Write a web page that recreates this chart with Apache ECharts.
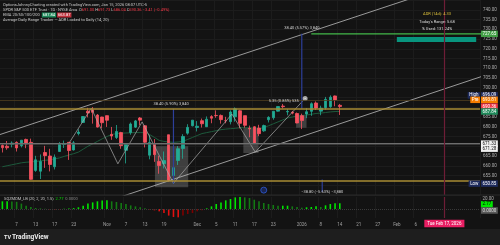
<!DOCTYPE html>
<html><head><meta charset="utf-8">
<script src="https://cdn.jsdelivr.net/npm/echarts@6/dist/echarts.min.js"></script>
<style>html,body{margin:0;padding:0;background:#131313;}#c{width:500px;height:245px;}</style>
</head><body><div id="c"></div>
<script>
// ---------------- DATA ----------------
const dates = [
'2025-10-02','2025-10-03','2025-10-06','2025-10-07','2025-10-08','2025-10-09','2025-10-10','2025-10-13','2025-10-14','2025-10-15','2025-10-16','2025-10-17','2025-10-20','2025-10-21','2025-10-22','2025-10-23','2025-10-24','2025-10-27','2025-10-28','2025-10-29','2025-10-30','2025-10-31',
'2025-11-03','2025-11-04','2025-11-05','2025-11-06','2025-11-07','2025-11-10','2025-11-11','2025-11-12','2025-11-13','2025-11-14','2025-11-17','2025-11-18','2025-11-19','2025-11-20','2025-11-21','2025-11-24','2025-11-25','2025-11-26','2025-11-28',
'2025-12-01','2025-12-02','2025-12-03','2025-12-04','2025-12-05','2025-12-08','2025-12-09','2025-12-10','2025-12-11','2025-12-12','2025-12-15','2025-12-16','2025-12-17','2025-12-18','2025-12-19','2025-12-22','2025-12-23','2025-12-24','2025-12-26','2025-12-29','2025-12-30','2025-12-31',
'2026-01-02','2026-01-05','2026-01-06','2026-01-07','2026-01-08','2026-01-09','2026-01-12','2026-01-13','2026-01-14',
'2026-01-15','2026-01-16','2026-01-20','2026-01-21','2026-01-22','2026-01-23','2026-01-26','2026-01-27','2026-01-28','2026-01-29','2026-01-30',
'2026-02-02','2026-02-03','2026-02-04','2026-02-05','2026-02-06','2026-02-09','2026-02-10','2026-02-11','2026-02-12','2026-02-13','2026-02-17','2026-02-18','2026-02-19','2026-02-20','2026-02-23','2026-02-24','2026-02-25','2026-02-26'
];
const tickLabels = {
'2025-10-07':'7','2025-10-13':'13','2025-10-17':'17','2025-10-23':'23','2025-11-03':'Nov','2025-11-07':'7','2025-11-13':'13','2025-11-19':'19',
'2025-12-01':'Dec','2025-12-05':'5','2025-12-11':'11','2025-12-17':'17','2025-12-23':'23','2026-01-02':'2026','2026-01-08':'8','2026-01-14':'14',
'2026-01-21':'21','2026-01-27':'27','2026-02-02':'Feb','2026-02-06':'6'
};
const candleOpen  = [670.4,670.0,671.0,672.0,670.3,673.5,672.0,657.6,657.2,666.8,665.0,659.5,667.3,670.9,672.0,668.1,676.5,682.2,688.0,688.7,686.0,685.0,
685.7,676.1,674.5,677.0,667.9,677.0,679.8,684.5,680.5,665.4,671.4,662.2,661.0,675.9,655.0,662.7,668.8,676.7,680.5,
679.6,683.1,680.0,685.2,685.8,685.8,683.1,682.6,685.1,688.2,685.7,679.2,680.0,679.3,677.9,683.6,684.6,688.0,690.6,687.6,687.4,686.8,
685.7,686.5,687.9,692.2,688.0,689.8,690.3,695.8,691.0];
const candleHigh  = [671.0,672.7,672.5,672.5,673.2,673.9,673.9,665.1,665.8,670.2,668.7,665.8,672.2,672.9,672.0,672.7,678.7,685.5,689.7,690.1,686.5,685.1,
685.8,679.9,680.9,677.4,671.1,682.2,683.5,685.0,680.9,675.7,673.7,665.1,667.3,675.9,664.5,670.1,676.2,681.3,683.4,
682.9,684.2,685.3,685.9,688.4,686.3,685.1,688.4,689.9,688.6,685.7,680.6,680.3,681.0,681.1,685.4,688.0,690.4,691.7,689.1,688.1,687.3,
686.7,689.5,692.5,693.0,690.8,695.3,696.09,696.0,691.7];
const candleLow   = [666.8,668.2,669.4,667.3,669.4,669.0,652.8,656.9,653.2,658.9,657.1,658.1,667.2,669.1,663.0,667.8,675.6,682.0,684.8,681.6,679.6,679.2,
679.9,673.3,673.7,668.7,661.2,675.9,679.4,680.8,669.4,663.3,662.0,655.9,658.6,651.9,650.85,660.4,663.6,675.9,680.2,
677.6,679.6,679.9,681.8,684.6,681.6,681.8,681.2,682.6,679.2,679.5,674.6,671.2,675.2,677.4,682.2,683.6,687.8,689.4,685.9,686.4,681.8,
678.8,684.4,685.6,688.6,685.9,688.8,689.7,690.5,686.04];
const candleClose = [669.22,669.21,671.61,669.12,673.11,671.16,653.02,663.04,662.23,665.17,660.64,664.39,671.30,671.29,667.80,671.76,677.25,685.24,687.06,687.39,679.83,682.06,
683.34,675.24,677.58,670.31,670.97,681.44,683.00,683.38,672.04,671.93,665.67,660.08,662.63,652.53,659.03,668.73,675.02,679.68,683.39,
680.27,681.53,683.89,684.39,685.69,683.63,683.04,687.57,689.17,681.76,680.73,678.87,671.40,676.47,680.59,684.83,687.96,690.38,690.31,687.85,687.01,681.92,
683.17,687.72,691.81,689.58,689.51,694.07,695.16,693.77,690.36];
const emaLine = [659.5,660.0,660.5,661.0,661.5,661.8,662.0,662.2,662.5,662.8,663.0,663.5,664.0,664.8,665.5,666.2,667.0,668.5,670.0,671.2,672.5,673.8,
675.0,676.0,676.5,676.7,676.8,676.9,677.0,677.0,677.0,676.0,674.5,673.0,672.5,672.2,672.0,672.2,672.5,673.5,674.5,
675.5,676.5,677.0,677.5,678.0,678.5,678.8,679.0,679.2,679.5,679.5,679.5,679.2,679.0,679.5,680.5,681.5,682.5,683.5,684.5,685.0,685.5,
685.8,686.0,686.4,686.8,687.0,687.3,687.6,687.8,687.84];
const sqzMom = [12.8,12.8,12.5,12.0,9.0,5.5,3.3,1.7,1.0,0.5,-0.5,-1.0,-0.6,0.4,0.8,1.5,2.8,5.5,9.0,11.0,12.8,14.0,
14.4,12.8,11.7,10.0,8.3,6.0,4.4,2.8,1.1,-0.5,-2.2,-3.9,-6.7,-11.0,-13.3,-13.9,-11.0,-8.3,-6.7,
-3.9,-2.2,1.1,4.4,8.3,11.0,14.4,16.7,19.4,20.0,19.4,18.3,15.5,12.8,10.0,8.3,6.7,5.5,5.5,5.5,4.4,3.3,
2.2,2.8,3.3,4.4,3.3,6.1,8.3,9.4,9.4];
// drawings: [candle index, price]
const zigzag = [[14,671.5],[18.7,689.5],[24.3,661],[29.4,682.5],[36,651],[48.3,686.5],[53.2,667],[63.7,694.5]];
const upperChannel = [[-1,675.6],[101,757.9]];
const lowerChannel = [[-1,623.0],[101,705.9]];
const greenTarget = [[65,727.65],[101,727.65]];
const targetBox = [[83,726],[99.7,723.5]];
const grayBoxes = [[[32.1,670],[39.1,649]],[[50.7,679.5],[53.9,666.5]],[[61.8,686],[64,679.5]]];
const measure1 = [[36,650.85],[36,689.25]];
const measure2 = [[63,689.25],[63,727.65]];
const measure3 = [[67.3,653],[67.3,646.5]];
const goldLevels = [689.25, 652.53];
const prevClose = 693.77;
const grayLevels = [671.33, 671.28];
const eventMarker = [[55,647.5]];
const markerDate = '2026-02-17';

// ---------------- CHART ----------------
const chart = echarts.init(document.getElementById('c'), null, {renderer:'canvas'});
const FONT = 'Roboto, "DejaVu Sans", sans-serif';
const candleData = candleOpen.map((o,i)=>[o, candleClose[i], candleLow[i], candleHigh[i]]);
const sqzData = sqzMom.map((v,i)=>{
  const prev = i>0 ? sqzMom[i-1] : v;
  let col;
  if (v >= 0) col = v >= prev ? '#00e600' : '#137a13';
  else col = v < prev ? '#e01010' : '#7d0000';
  return {value:v, itemStyle:{color:col}};
});
function seg(points, color, width, extra){
  return Object.assign({type:'line', xAxisIndex:2, yAxisIndex:0, data:points, symbol:'none', silent:true,
    lineStyle:{color:color, width:width}, z:4, clip:true}, extra||{});
}
const option = {
  animation:false,
  backgroundColor:'#131313',
  grid:[
    {left:0, right:20, top:-2, height:197},
    {left:0, right:20, top:197, height:21}
  ],
  xAxis:[
    {type:'category', gridIndex:0, data:dates, boundaryGap:true, axisLine:{show:false}, axisTick:{show:false}, axisLabel:{show:false},
     splitLine:{show:true, interval:(i,v)=>tickLabels[v]!==undefined, lineStyle:{color:'#1c1c1c', width:1}}},
    {type:'category', gridIndex:1, data:dates, boundaryGap:true, axisLine:{show:false}, axisTick:{show:false},
     axisLabel:{show:true, interval:(i,v)=>tickLabels[v]!==undefined, formatter:v=>tickLabels[v]||'', color:'#a0a0a0', fontSize:4.5, fontFamily:FONT, margin:4},
     splitLine:{show:true, interval:(i,v)=>tickLabels[v]!==undefined, lineStyle:{color:'#1c1c1c', width:1}}},
    {type:'value', gridIndex:0, min:-0.5, max:100.5, show:false}
  ],
  yAxis:[
    {type:'value', gridIndex:0, position:'right', min:645, max:745, interval:5, axisLine:{show:false}, axisTick:{show:false},
     axisLabel:{color:'#b0b0b0', fontSize:4.5, fontFamily:FONT, margin:3, formatter:v=>(v===645||v===745)?'':v.toFixed(2)},
     splitLine:{show:true, lineStyle:{color:'#1c1c1c', width:1}}},
    {type:'value', gridIndex:1, position:'right', min:-15, max:20, interval:5, axisLine:{show:false}, axisTick:{show:false},
     axisLabel:{show:false}, splitLine:{show:false}}
  ],
  series:[
    {type:'candlestick', xAxisIndex:0, yAxisIndex:0, data:candleData, barWidth:3, z:3,
     itemStyle:{color:'#22ab94', color0:'#f7525f', borderColor:'#22ab94', borderColor0:'#f7525f', borderWidth:0.8},
     markLine:{symbol:'none', silent:true, label:{show:false}, data:[
       {yAxis:goldLevels[0], lineStyle:{color:'#a88d34', width:1.6, type:'solid'}},
       {yAxis:goldLevels[1], lineStyle:{color:'#a88d34', width:1.6, type:'solid'}},
       {yAxis:prevClose, lineStyle:{color:'#4e3d20', width:0.8, type:'solid'}},
       {yAxis:grayLevels[0], lineStyle:{color:'#6e6e6e', width:1, type:'solid'}},
       {yAxis:grayLevels[1], lineStyle:{color:'#555555', width:0.6, type:'solid'}},
       {xAxis:markerDate, lineStyle:{color:'#6e1d36', width:1.2, type:'solid'}}
     ]}},
    {type:'line', xAxisIndex:0, yAxisIndex:0, data:emaLine, symbol:'none', silent:true, lineStyle:{color:'#1d5a3c', width:1}, z:2},
    seg(upperChannel, '#bdbdbd', 0.8),
    seg(lowerChannel, '#bdbdbd', 0.8),
    seg(zigzag, '#aaaaaa', 0.7),
    seg([zigzag[zigzag.length-1]], '#aaaaaa', 0.7, {symbol:'emptyCircle', symbolSize:3, itemStyle:{color:'#aaaaaa', borderColor:'#aaaaaa'}}),
    seg(greenTarget, '#43b94a', 1.3),
    seg(measure1, '#2d3f9a', 1.2),
    seg(measure2, '#2d3f9a', 1.2),
    seg(measure3, '#2d3f9a', 1.2),
    {type:'line', xAxisIndex:2, yAxisIndex:0, data:[], silent:true, z:1,
     markArea:{silent:true, itemStyle:{color:'rgba(190,190,190,0.26)'}, data: grayBoxes.map(b=>[{coord:b[0]},{coord:b[1]}]).concat([
       [{coord:targetBox[0], itemStyle:{color:'#08957e'}},{coord:targetBox[1]}]
     ])}},
    {type:'scatter', xAxisIndex:2, yAxisIndex:0, data:eventMarker, symbol:'circle', symbolSize:6, silent:true,
     itemStyle:{color:'#1b2b63', borderColor:'#2f5bd8', borderWidth:1}, z:6},
    {type:'bar', xAxisIndex:1, yAxisIndex:1, data:sqzData, barWidth:1.6, silent:true,
     markLine:{symbol:'none', silent:true, label:{show:false}, data:[
       {yAxis:0, lineStyle:{color:'#3a3a3a', width:1, type:'dotted'}},
       {xAxis:markerDate, lineStyle:{color:'#6e1d36', width:1.2, type:'solid'}}
     ]}}
  ]
};
chart.setOption(option);

// ----- overlays positioned through the chart's own scales -----
const py = p => chart.convertToPixel({yAxisIndex:0}, p);
const py2 = p => chart.convertToPixel({yAxisIndex:1}, p);
const px = i => chart.convertToPixel({xAxisIndex:2}, i);
const AX = 481;
function tag(y, text, bg, fg){
  return {type:'text', z:100, x:AX, y:y, style:{text:text, fill:fg, backgroundColor:bg, padding:[1,1.5,0.5,1.5], font:'4.5px '+FONT, verticalAlign:'middle', align:'left'}};
}
function ptag(y, text, bg, fg){
  return {type:'text', z:100, x:AX-1, y:y, style:{text:text, fill:fg, backgroundColor:bg, padding:[1,1.5,0.5,1.5], font:'4.5px '+FONT, verticalAlign:'middle', align:'right'}};
}
function label(x, y, text, color, align){
  return {type:'text', z:90, x:x, y:y, style:{text:text, fill:color, font:'4px '+FONT, align:align||'center', verticalAlign:'middle'}};
}
const g = [];
// header
g.push({type:'text', z:100, left:3, top:2, style:{font:'4px '+FONT, fill:'#c8c8c8', lineHeight:5.2,
  text:'{w|OptionsJohnnyCharting created with TradingView.com, Jan 15, 2026 08:07 UTC-5}\n' +
       '{w|SPDR S&P 500 ETF Trust · 1D · NYSE Arca  }{w|O}{r|691.00 }{w|H}{r|691.73 }{w|L}{r|686.04 }{w|C}{r|690.36 −3.41 (−0.49%)}\n' +
       '{w|EMA 20/50/100/200  }{gb|687.84}{w| }{rb|663.87}\n' +
       '{w|Average Daily Range Tracker — ADR Locked to Daily (14, 20)}',
  rich:{w:{fill:'#c8c8c8', font:'4px '+FONT}, r:{fill:'#f23645', font:'4px '+FONT},
        gb:{fill:'#fff', backgroundColor:'#1e8a5a', padding:[0.5,1], font:'4px '+FONT},
        rb:{fill:'#fff', backgroundColor:'#c0303c', padding:[0.5,1], font:'4px '+FONT}}}});
// ADR box
g.push(label(437, 14, 'ADR (14d): 4.33', '#d9bd3a'));
g.push(label(437, 21.5, "Today's Range: 5.68", '#dddddd'));
g.push(label(437, 29, '% Used: 131.24%', '#dddddd'));
// measure labels
g.push(label(px(35.5), py(691.7), '38.40 (5.90%) 3,840', '#cfcfcf'));
g.push(label(px(63), py(730.5), '38.40 (5.57%) 3,840', '#cfcfcf'));
g.push(label(px(59.2), py(693.2), '5.35 (0.85%) 535', '#cfcfcf'));
g.push(label(px(67.3), py(646.3), '−38.80 (−5.63%) −3,880', '#cfcfcf'));
// axis tags
g.push(tag(py(727.65), '727.65', '#43a047', '#fff'));
g.push(ptag(py(696.09), 'High', '#1d2a5c', '#fff'));
g.push(tag(py(696.09), '696.09', '#1d2a5c', '#fff'));
g.push(ptag(py(693.81), 'Pre', '#f57c00', '#fff'));
g.push(tag(py(693.81), '693.81', '#f57c00', '#fff'));
g.push(tag(py(690.36), '690.36', '#f23645', '#fff'));
g.push(tag(py(687.84), '687.84', '#1e8a5a', '#fff'));
g.push(tag(py(671.33), '671.33', '#f0f0f0', '#111'));
g.push(tag(py(671.33)+5, '671.28', '#f0f0f0', '#111'));
g.push(ptag(py(650.85), 'Low', '#1d2a5c', '#fff'));
g.push(tag(py(650.85), '650.85', '#1d2a5c', '#fff'));
// oscillator
g.push({type:'text', z:100, left:4, top:197, style:{font:'4px '+FONT, text:'{w|SQZMOM_LB (20, 2, 20, 1.5)  }{g|2.77}{w|  }{k|0.0000}',
  rich:{w:{fill:'#c8c8c8', font:'4px '+FONT}, g:{fill:'#00e600', font:'4px '+FONT}, k:{fill:'#888', font:'4px '+FONT}}}});
g.push({type:'text', z:100, x:AX+1.5, y:py2(20)+1.5, style:{text:'20.00', fill:'#b0b0b0', font:'4.5px '+FONT, verticalAlign:'middle', align:'left'}});
g.push(tag(py2(2.77)-3, '2.77', '#00e600', '#000'));
g.push(tag(py2(0)+1.5, '0.0000', '#5a5a5a', '#ddd'));
// pane separator, date marker, footer
g.push({type:'rect', z:50, shape:{x:0, y:py(645)-0.5, width:500, height:1}, style:{fill:'#2a2a2a'}});
g.push({type:'text', z:100, x:px(93), y:223.5, style:{text:'Tue Feb 17, 2026', fill:'#fff', backgroundColor:'#e91e63', padding:[1.5,3,1,3], font:'4.5px '+FONT, align:'center', verticalAlign:'middle'}});
g.push({type:'rect', z:50, shape:{x:0, y:229, width:500, height:16}, style:{fill:'#1e1e1e'}});
g.push({type:'text', z:100, x:4, y:237.5, style:{text:'TV', fill:'#f0f0f0', font:'bold 5.5px '+FONT, verticalAlign:'middle'}});
g.push({type:'text', z:100, x:12, y:237.5, style:{text:'TradingView', fill:'#f0f0f0', font:'bold 6.5px '+FONT, verticalAlign:'middle'}});
chart.setOption({graphic:g});
</script></body></html>
